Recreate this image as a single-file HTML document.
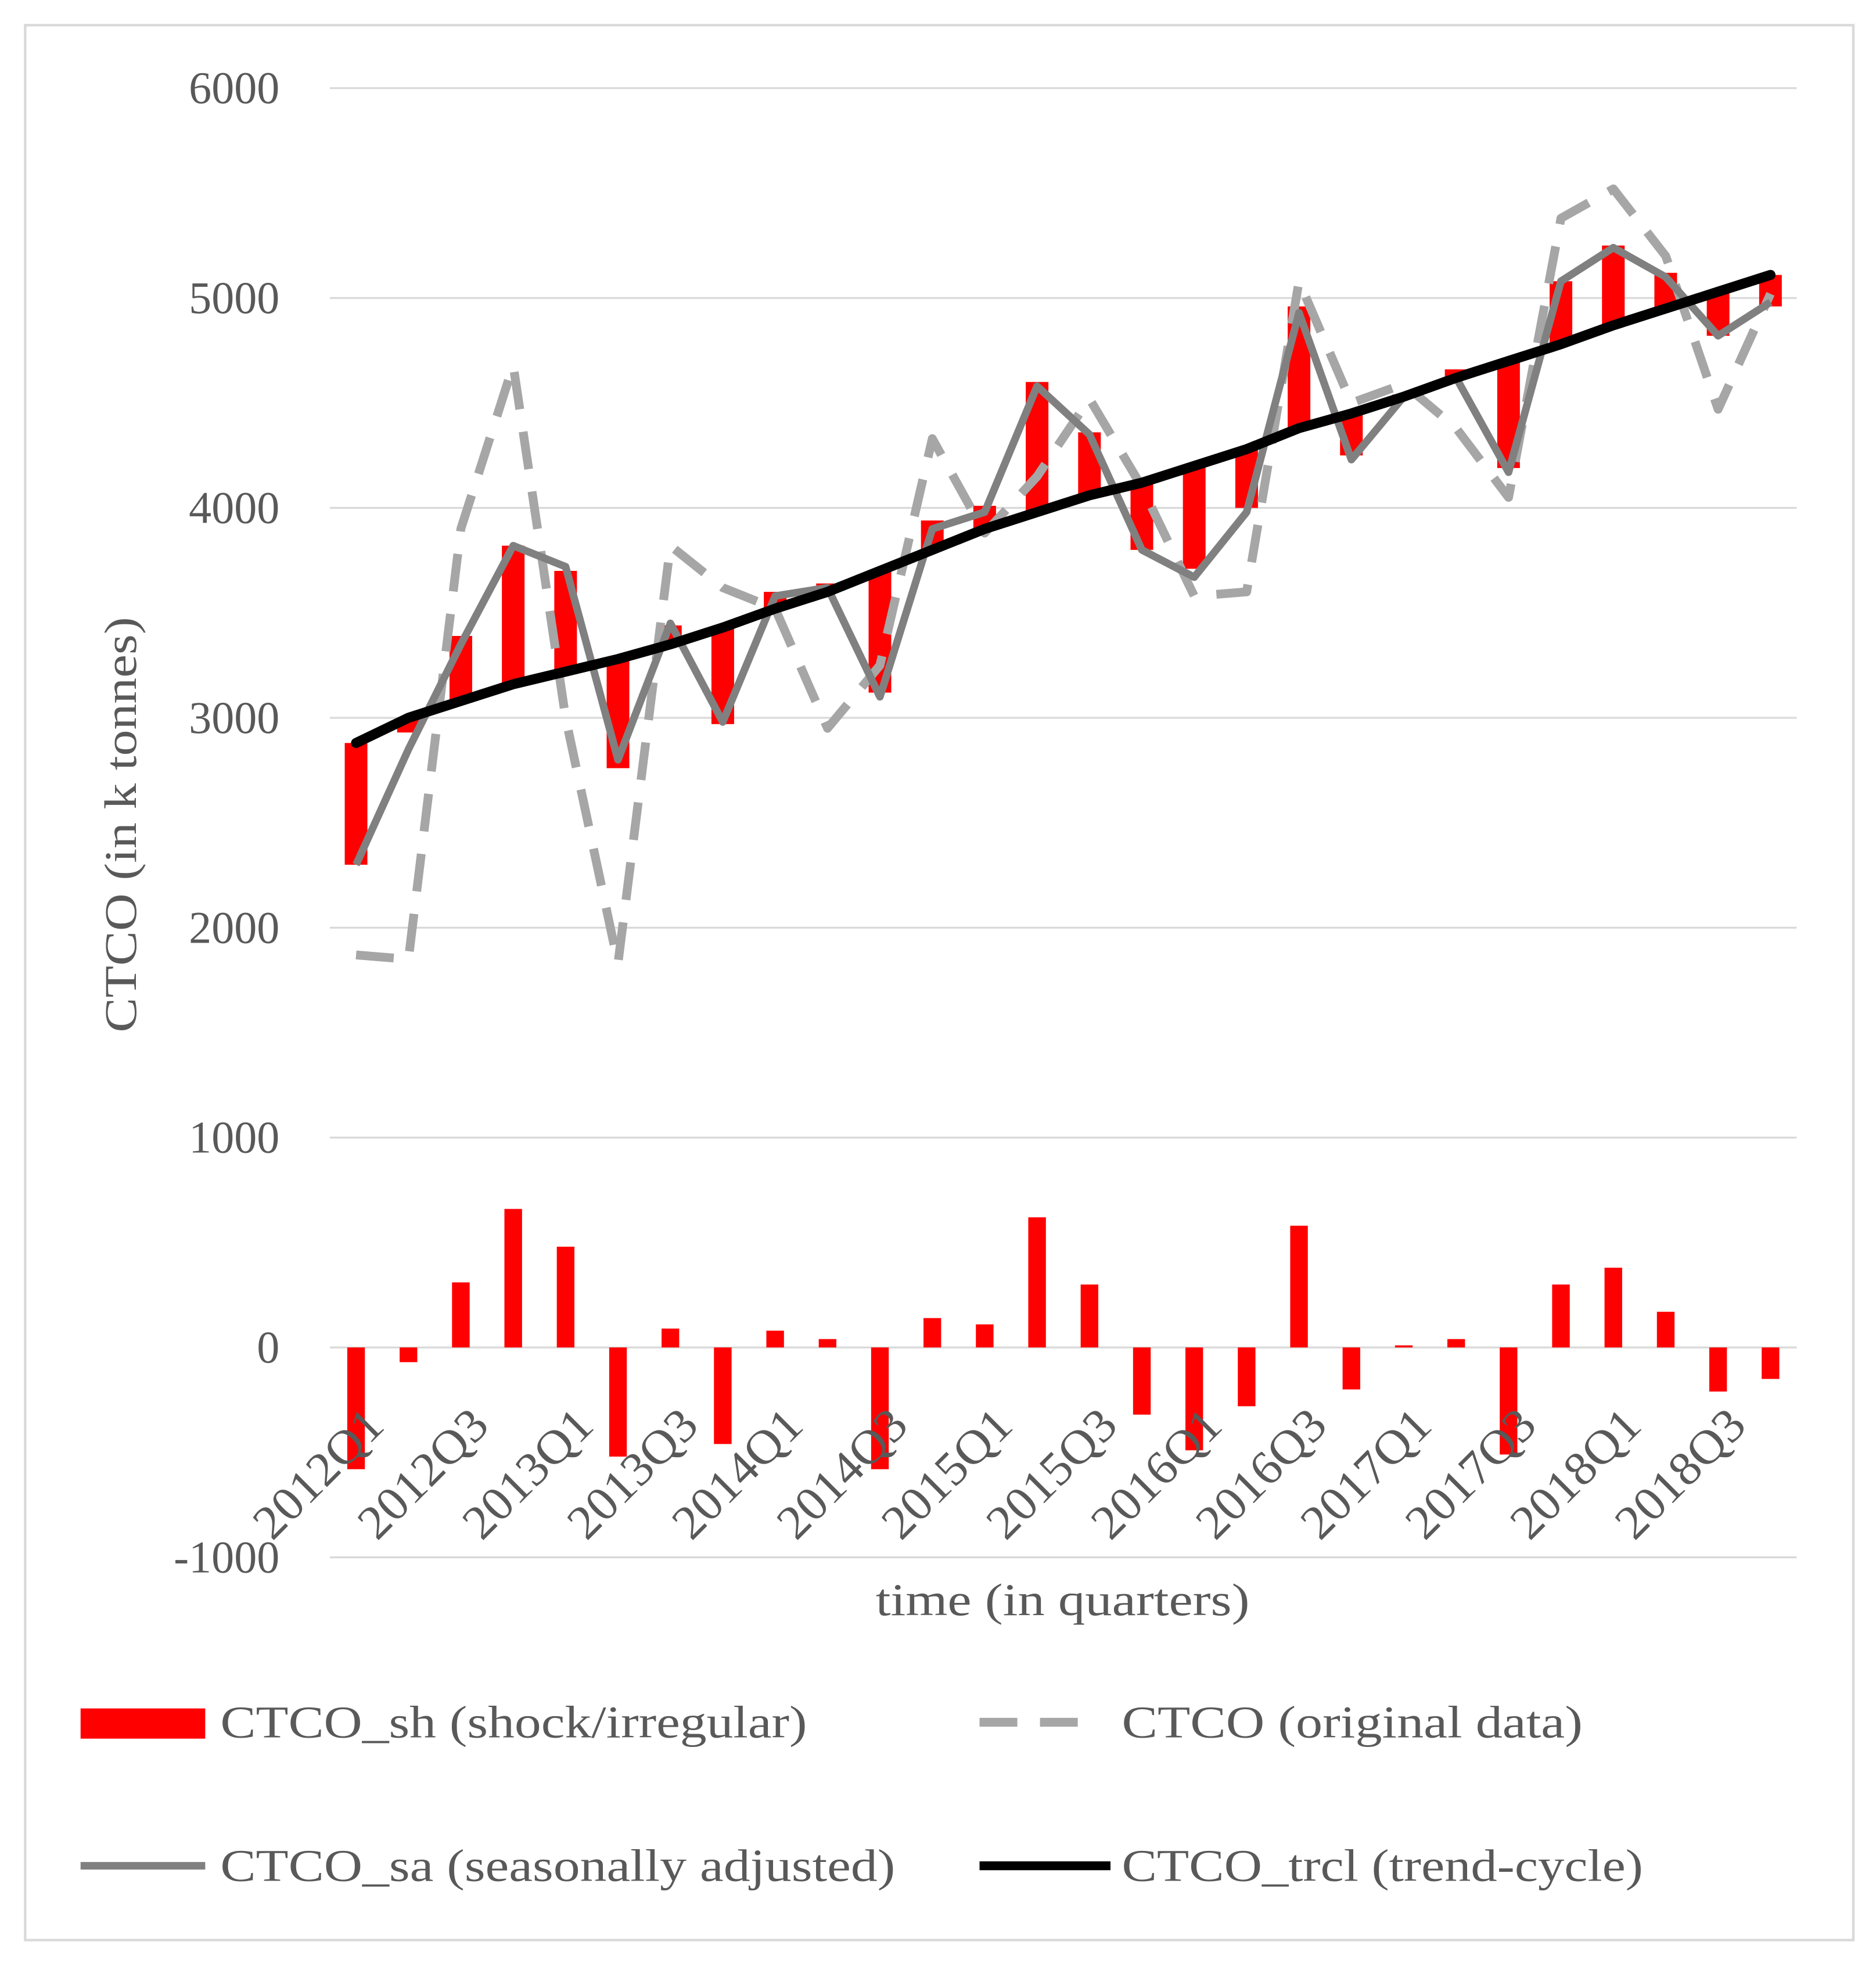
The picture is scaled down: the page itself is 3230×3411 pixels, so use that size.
<!DOCTYPE html>
<html><head><meta charset="utf-8"><style>
html,body{margin:0;padding:0;background:#fff}
svg{display:block}
text{font-family:"Liberation Serif",serif;fill:#595959}
</style></head><body>
<svg id="chart" width="3230" height="3411" viewBox="0 0 1490 1573.5" preserveAspectRatio="none" xmlns="http://www.w3.org/2000/svg">
<rect x="20" y="20" width="1452" height="1521" fill="#fff" stroke="#d9d9d9" stroke-width="2"/>
<g id="grid"></g><g id="bars"></g><g id="lines"></g><g id="labels"></g>
<text transform="translate(108,655) rotate(-90)" text-anchor="middle" font-size="36" textLength="330" lengthAdjust="spacingAndGlyphs">CTCO (in k tonnes)</text>
<text x="844" y="1283" text-anchor="middle" font-size="36" textLength="297" lengthAdjust="spacingAndGlyphs">time (in quarters)</text>
<g>
<g><rect x="64" y="1357" width="99" height="24" fill="#ff0000"/><text x="175" y="1380" font-size="36" textLength="466" lengthAdjust="spacingAndGlyphs">CTCO_sh (shock/irregular)</text></g>
<g><line x1="778" y1="1368" x2="872" y2="1368" stroke="#a6a6a6" stroke-width="7" stroke-dasharray="30,18"/><text x="891" y="1380" font-size="36" textLength="366" lengthAdjust="spacingAndGlyphs">CTCO (original data)</text></g>
<g><line x1="64" y1="1482" x2="163" y2="1482" stroke="#808080" stroke-width="6"/><text x="175" y="1494" font-size="36" textLength="536" lengthAdjust="spacingAndGlyphs">CTCO_sa (seasonally adjusted)</text></g>
<g><line x1="778" y1="1482" x2="882" y2="1482" stroke="#000" stroke-width="7"/><text x="891" y="1494" font-size="36" textLength="414" lengthAdjust="spacingAndGlyphs">CTCO_trcl (trend-cycle)</text></g>
</g>
</svg>
<script>
const categories=[];for(const y of [2012,2013,2014,2015,2016,2017,2018])for(const q of [1,2,3,4])categories.push(y+'Q'+q);
const shock=[-580,-70,310,660,480,-520,90,-460,80,40,-580,140,110,620,300,-320,-490,-280,580,-200,10,40,-510,300,380,170,-210,-150];
const trend=[2880,3000,3080,3160,3220,3280,3350,3430,3520,3600,3700,3800,3900,3980,4060,4120,4200,4280,4380,4450,4530,4620,4700,4780,4870,4950,5030,5110];
const sa=[2300,2850,3350,3820,3720,2800,3450,2980,3580,3620,3100,3900,3980,4580,4350,3800,3670,3980,4930,4230,4530,4620,4170,5080,5240,5100,4820,4980];
const original=[1870,1850,3900,4680,3000,1830,3820,3620,3520,2950,3250,4330,3880,4150,4520,4100,3580,3600,5080,4500,4590,4380,4050,5380,5520,5200,4470,5020];
const yTicks=[-1000,0,1000,2000,3000,4000,5000,6000];
const NS='http://www.w3.org/2000/svg';
const x0=262,x1=1427,yTop=70,yBot=1237;
const yS=v=>yBot-(v+1000)/7000*(yBot-yTop);
const step=(x1-x0)/categories.length;
const xS=i=>x0+step*(i+0.5);
function mk(t,a,p){const e=document.createElementNS(NS,t);for(const k in a)e.setAttribute(k,a[k]);p.appendChild(e);return e;}
const grid=document.getElementById('grid'),bars=document.getElementById('bars'),lines=document.getElementById('lines'),labels=document.getElementById('labels');
yTicks.forEach(v=>{
 const l=mk('line',{x1:x0,x2:x1,y1:yS(v),y2:yS(v),stroke:'#d9d9d9','stroke-width':1.5},grid);
 
 
 const t=mk('text',{x:222,y:yS(v)+12,'text-anchor':'end','font-size':36},labels);t.textContent=v;
 
 
});
shock.forEach((s,i)=>{
 const a=yS(trend[i]),b=yS(trend[i]+s);
 const r=mk('rect',{x:xS(i)-9,y:Math.min(a,b),width:18,height:Math.abs(a-b),fill:'#ff0000'},bars);
 
 
 const c=yS(0),d=yS(s);
 const r2=mk('rect',{x:xS(i)-7,y:Math.min(c,d),width:14,height:Math.abs(c-d),fill:'#ff0000'},bars);
 
 
});
function line(arr,st,name){const p=mk('polyline',Object.assign({points:arr.map((v,i)=>xS(i)+','+yS(v)).join(' '),fill:'none','stroke-linejoin':'round'},st),lines);
 
 }
line(original,{stroke:'#a6a6a6','stroke-width':7,'stroke-dasharray':'30,18'},'original-line');
line(sa,{stroke:'#808080','stroke-width':6},'seasonally-adjusted-line');
line(trend,{stroke:'#000','stroke-width':8,'stroke-linecap':'round'},'trend-cycle-line');
categories.forEach((c,i)=>{if(i%2)return;
 const t=mk('text',{transform:`translate(${xS(i)+24},1134) rotate(-45)`,'text-anchor':'end','font-size':38,textLength:128,lengthAdjust:'spacingAndGlyphs'},labels);t.textContent=c;
 
 
});
</script>
</body></html>
